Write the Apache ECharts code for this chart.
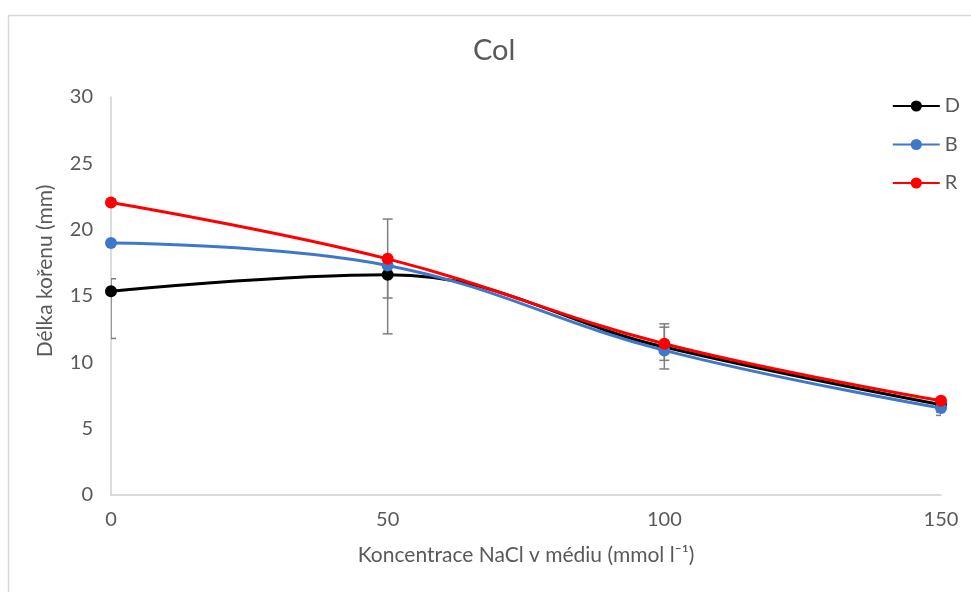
<!DOCTYPE html>
<html style="height: 100%">
<head>
    <meta charset="UTF-8" />
    <title>Col</title>
    <style>
        html, body { margin: 0; padding: 0; background: #fff; }
        #main { width: 971px; height: 592px; }
    </style>
</head>
<body>
    <div id="main"></div>
    <script src="https://cdn.jsdelivr.net/npm/echarts@6/dist/echarts.min.js"></script>
    <script>
        /* data */
        var xTicks = [0, 50, 100, 150];
        var seriesNames = ['D', 'B', 'R'];
        var valuesD = [15.35, 16.6, 11.15, 6.8];
        var valuesB = [19.0, 17.3, 10.9, 6.55];
        var valuesR = [22.05, 17.8, 11.4, 7.1];
        // error bars: x, lower, upper
        var errX = [0, 50, 50, 100, 100, 150, 150];
        var errLow = [11.8, 12.15, 14.85, 9.5, 10.15, 6.0, 6.25];
        var errHigh = [16.3, 20.8, 17.3, 12.9, 12.65, 6.8, 6.5];

        var colors = ['#000000', '#3f78c8', '#ff0000'];
        var textColor = '#595959';
        var font = 'Lato, "Noto Sans", sans-serif';

        function pairs(vals){
            var out = [];
            for(var i = 0; i < xTicks.length; i++){
                out.push([xTicks[i], vals[i]]);
            }
            return out;
        }
        var errData = [];
        for(var e = 0; e < errX.length; e++){
            errData.push([errX[e], errLow[e], errHigh[e]]);
        }

        var app = echarts.init(document.getElementById('main'));
        var allValues = [valuesD, valuesB, valuesR];
        var lineSeries = [];
        for(var s = 0; s < seriesNames.length; s++){
            lineSeries.push({
                name: seriesNames[s],
                type: 'line',
                smooth: 0.4,
                symbol: 'circle',
                symbolSize: 12,
                z: 3 + s,
                lineStyle: {width: 3, color: colors[s]},
                itemStyle: {color: colors[s]},
                data: pairs(allValues[s])
            });
        }

        var option = {
            animation: false,
            color: colors,
            textStyle: {fontFamily: font},
            title: {
                text: 'Col',
                left: 468,
                top: 31,
                textStyle: {fontSize: 29, fontWeight: 'normal', color: textColor, fontFamily: font}
            },
            legend: {
                orient: 'vertical',
                right: 6,
                top: 91,
                itemGap: 18.5,
                itemWidth: 47,
                itemHeight: 14,
                textStyle: {fontSize: 20, color: textColor, fontFamily: font},
                data: seriesNames
            },
            grid: {left: 111, right: 30, top: 97, bottom: 97, containLabel: false},
            xAxis: {
                type: 'value',
                min: 0,
                max: 150,
                interval: 50,
                name: 'Koncentrace NaCl v médiu (mmol l\u207B\u00B9)',
                nameLocation: 'middle',
                nameGap: 50,
                nameTextStyle: {fontSize: 21, color: textColor, fontFamily: font},
                axisLine: {lineStyle: {color: '#d0d0d0', width: 1.5}},
                axisTick: {show: false},
                splitLine: {show: false},
                axisLabel: {fontSize: 20, color: textColor, margin: 15, fontFamily: font}
            },
            yAxis: {
                type: 'value',
                min: 0,
                max: 30,
                interval: 5,
                name: 'Délka kořenu (mm)',
                nameLocation: 'middle',
                nameGap: 55,
                nameTextStyle: {fontSize: 21, color: textColor, fontFamily: font, padding: [0, 0, 0, 50]},
                axisLine: {show: true, lineStyle: {color: '#d0d0d0', width: 1.5}},
                axisTick: {show: false},
                splitLine: {show: false},
                axisLabel: {fontSize: 20, color: textColor, margin: 18, fontFamily: font}
            },
            graphic: [{
                type: 'rect',
                left: 6,
                top: 13,
                shape: {width: 1000, height: 1000},
                style: {fill: 'none', stroke: '#d9d9d9', lineWidth: 1.5},
                silent: true
            }],
            series: [{
                type: 'custom',
                name: 'err',
                z: 2,
                clip: true,
                renderItem: function(params, api){
                    var lo = api.coord([api.value(0), api.value(1)]);
                    var hi = api.coord([api.value(0), api.value(2)]);
                    var w = 5;
                    var st = {stroke: '#7f7f7f', lineWidth: 1.5};
                    return {
                        type: 'group',
                        children: [
                            {type: 'line', shape: {x1: lo[0], y1: lo[1], x2: hi[0], y2: hi[1]}, style: st},
                            {type: 'line', shape: {x1: lo[0] - w, y1: lo[1], x2: lo[0] + w, y2: lo[1]}, style: st},
                            {type: 'line', shape: {x1: hi[0] - w, y1: hi[1], x2: hi[0] + w, y2: hi[1]}, style: st}
                        ]
                    };
                },
                encode: {x: 0, y: [1, 2]},
                data: errData
            }].concat(lineSeries)
        };
        app.setOption(option);
    </script>
</body>
</html>
